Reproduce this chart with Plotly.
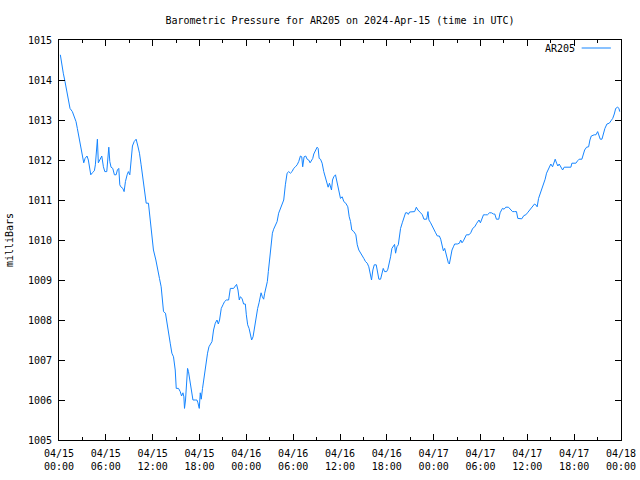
import pandas as pd
import plotly.graph_objects as go

series_name = "AR205"
start_time = "2024-04-15 00:00"
end_time = "2024-04-18 00:00"

hours = [
    0.17, 0.35, 0.55, 0.77, 0.99, 1.19, 1.41, 1.71, 1.96, 2.18, 2.35, 2.57, 2.78, 2.99, 3.17, 3.34,
    3.59, 3.76, 3.94, 4.07, 4.27, 4.53, 4.66, 4.79, 4.92, 5.04, 5.22, 5.48, 5.69, 5.87, 6.12, 6.25,
    6.38, 6.51, 6.67, 6.89, 7.10, 7.32, 7.48, 7.66, 7.79, 7.92, 8.18, 8.34, 8.51, 8.73, 8.89, 9.07,
    9.24, 9.41, 9.63, 9.88, 10.10, 10.31, 10.52, 10.69, 10.87, 11.04, 11.17, 11.46, 11.59, 11.68,
    11.90, 12.10, 12.41, 12.62, 12.87, 13.09, 13.26, 13.39, 13.64, 13.82, 14.03, 14.25, 14.46, 14.67,
    14.89, 15.02, 15.31, 15.53, 15.70, 15.88, 16.00, 16.08, 16.21, 16.34, 16.47, 16.59, 16.72, 16.90,
    17.03, 17.16, 17.45, 17.67, 17.80, 17.97, 18.10, 18.22, 18.39, 18.52, 18.70, 18.87, 19.03, 19.21,
    19.38, 19.60, 19.80, 20.02, 20.24, 20.41, 20.57, 20.79, 21.01, 21.21, 21.43, 21.73, 21.95, 22.37,
    22.59, 22.75, 22.93, 23.10, 23.23, 23.45, 23.65, 23.87, 24.00, 24.17, 24.35, 24.51, 24.68, 24.86,
    25.03, 25.15, 25.28, 25.45, 25.63, 25.80, 25.89, 26.05, 26.22, 26.35, 26.53, 26.69, 26.82, 26.99,
    27.17, 27.34, 27.50, 27.72, 27.94, 28.14, 28.36, 28.58, 28.79, 29.00, 29.22, 29.43, 29.65, 29.86,
    30.07, 30.29, 30.51, 30.71, 30.93, 31.10, 31.22, 31.40, 31.61, 31.79, 31.99, 32.17, 32.34, 32.51,
    32.64, 32.85, 33.07, 33.20, 33.33, 33.50, 33.71, 33.92, 34.14, 34.36, 34.48, 34.65, 34.78, 34.91,
    35.04, 35.20, 35.42, 35.64, 35.84, 36.06, 36.28, 36.49, 36.74, 37.00, 37.18, 37.35, 37.51, 37.77,
    38.03, 38.21, 38.41, 38.63, 38.85, 39.05, 39.27, 39.49, 39.69, 39.91, 40.04, 40.21, 40.39, 40.64,
    40.81, 40.98, 41.20, 41.36, 41.54, 41.71, 41.97, 42.13, 42.31, 42.48, 42.65, 42.83, 42.99, 43.12,
    43.29, 43.47, 43.60, 43.76, 43.98, 44.19, 44.40, 44.62, 44.75, 44.92, 45.26, 45.56, 45.78, 45.98,
    46.33, 46.55, 46.75, 47.10, 47.27, 47.39, 47.61, 47.83, 48.04, 48.25, 48.47, 48.73, 48.90, 49.06,
    49.24, 49.41, 49.58, 49.76, 49.88, 50.01, 50.18, 50.35, 50.53, 50.69, 51.04, 51.30, 51.46, 51.63,
    51.81, 51.98, 52.19, 52.53, 52.75, 53.00, 53.26, 53.52, 53.81, 53.99, 54.16, 54.38, 54.67, 54.89,
    55.15, 55.40, 55.66, 55.83, 56.04, 56.34, 56.51, 56.81, 57.02, 57.24, 57.58, 57.84, 58.10, 58.35,
    58.61, 58.78, 59.03, 59.29, 59.55, 59.81, 60.02, 60.23, 60.45, 60.67, 60.92, 61.09, 61.26, 61.44,
    61.64, 61.86, 62.08, 62.28, 62.46, 62.63, 62.80, 63.01, 63.23, 63.40, 63.57, 63.75, 63.91, 64.08,
    64.30, 64.52, 64.72, 65.16, 65.58, 65.71, 66.22, 66.44, 66.64, 66.99, 67.16, 67.34, 67.59, 67.85,
    68.02, 68.19, 68.57, 68.79, 69.01, 69.17, 69.34, 69.56, 69.73, 69.94, 70.20, 70.50, 70.72, 70.94,
    71.14, 71.32, 71.57, 71.74, 71.83,
]

pressure = [
    1014.63, 1014.38, 1014.17, 1013.96, 1013.75, 1013.50, 1013.29, 1013.21, 1013.07, 1012.96, 1012.79, 1012.58, 1012.38, 1012.13, 1011.93, 1012.04,
    1012.10, 1012.00, 1011.79, 1011.63, 1011.68, 1011.73, 1011.88, 1012.35, 1012.52, 1011.93, 1012.02, 1012.10, 1011.83, 1011.71, 1011.71, 1012.08,
    1012.32, 1011.96, 1011.82, 1011.79, 1011.63, 1011.63, 1011.75, 1011.79, 1011.38, 1011.33, 1011.29, 1011.21, 1011.46, 1011.63, 1011.71, 1011.63,
    1012.00, 1012.35, 1012.46, 1012.52, 1012.35, 1012.17, 1011.88, 1011.63, 1011.38, 1011.13, 1010.92, 1010.92, 1010.67, 1010.50,
    1010.08, 1009.75, 1009.50, 1009.25, 1009.04, 1008.83, 1008.50, 1008.21, 1008.17, 1007.92, 1007.67, 1007.42, 1007.17, 1007.08,
    1006.75, 1006.29, 1006.29, 1006.21, 1006.10, 1006.18, 1006.08, 1005.79, 1006.00, 1006.33, 1006.79, 1006.71, 1006.54, 1006.38,
    1006.17, 1006.00, 1006.00, 1006.00, 1005.93, 1005.79, 1006.18, 1006.02, 1006.29, 1006.50, 1006.71, 1006.92, 1007.17, 1007.33,
    1007.38, 1007.46, 1007.75, 1007.92, 1008.00, 1007.90, 1008.00, 1008.29, 1008.38, 1008.46, 1008.50, 1008.50, 1008.79, 1008.79,
    1008.85, 1008.89, 1008.75, 1008.50, 1008.58, 1008.54, 1008.40, 1008.40, 1008.13, 1007.88, 1007.79, 1007.67, 1007.50, 1007.58,
    1007.79, 1007.96, 1008.08, 1008.29, 1008.43, 1008.63, 1008.68, 1008.58, 1008.52, 1008.67, 1008.83, 1008.96, 1009.21, 1009.50,
    1009.83, 1010.17, 1010.27, 1010.38, 1010.46, 1010.67, 1010.79, 1010.90, 1011.00, 1011.38, 1011.67, 1011.71, 1011.67, 1011.71,
    1011.79, 1011.83, 1011.88, 1011.96, 1012.10, 1012.08, 1011.83, 1012.08, 1012.10, 1012.02, 1012.00, 1011.93, 1011.98, 1012.04,
    1012.15, 1012.23, 1012.32, 1012.29, 1012.04, 1012.02, 1011.92, 1011.71, 1011.54, 1011.38, 1011.32, 1011.42, 1011.33, 1011.25,
    1011.50, 1011.58, 1011.63, 1011.42, 1011.21, 1011.04, 1011.08, 1010.96, 1010.92, 1010.83, 1010.58, 1010.46, 1010.25, 1010.21,
    1010.13, 1009.88, 1009.75, 1009.68, 1009.63, 1009.54, 1009.46, 1009.42, 1009.33, 1009.08, 1009.00, 1009.25, 1009.38, 1009.38,
    1009.13, 1009.02, 1009.02, 1009.17, 1009.29, 1009.21, 1009.21, 1009.27, 1009.42, 1009.58, 1009.79, 1009.85, 1009.89, 1009.67,
    1009.83, 1009.88, 1010.04, 1010.29, 1010.43, 1010.57, 1010.68, 1010.68, 1010.64, 1010.70, 1010.71, 1010.71, 1010.82, 1010.75,
    1010.68, 1010.63, 1010.52, 1010.52, 1010.71, 1010.50, 1010.43, 1010.33, 1010.25, 1010.18, 1010.10, 1010.10, 1010.02, 1009.88,
    1009.73, 1009.79, 1009.63, 1009.50, 1009.43, 1009.40, 1009.60, 1009.75, 1009.83, 1009.90, 1009.90, 1009.92, 1010.00, 1009.93,
    1009.98, 1010.04, 1010.13, 1010.13, 1010.18, 1010.29, 1010.33, 1010.42, 1010.50, 1010.43, 1010.52, 1010.63, 1010.63, 1010.63,
    1010.68, 1010.68, 1010.65, 1010.65, 1010.52, 1010.52, 1010.68, 1010.79, 1010.77, 1010.82, 1010.82, 1010.77, 1010.71, 1010.71,
    1010.71, 1010.54, 1010.53, 1010.53, 1010.61, 1010.63, 1010.68, 1010.73, 1010.79, 1010.83, 1010.90, 1010.88, 1010.83, 1011.04,
    1011.15, 1011.25, 1011.38, 1011.52, 1011.67, 1011.75, 1011.83, 1011.90, 1011.83, 1011.93, 1012.02, 1011.92, 1011.85, 1011.90,
    1011.82, 1011.75, 1011.82, 1011.82, 1011.82, 1011.92, 1011.92, 1011.98, 1012.02, 1012.02, 1012.13, 1012.25, 1012.32, 1012.33,
    1012.50, 1012.60, 1012.63, 1012.63, 1012.71, 1012.63, 1012.52, 1012.52, 1012.67, 1012.79, 1012.90, 1012.92, 1012.98, 1013.04,
    1013.15, 1013.29, 1013.32, 1013.29, 1013.21,
]

y_min, y_max = 1005, 1015
title_text = "Barometric Pressure for AR205 on 2024-Apr-15 (time in UTC)"
y_title = "milliBars"

times = pd.Timestamp(start_time) + pd.to_timedelta(hours, unit="h")

FONT = "DejaVu Sans Mono, Liberation Mono, monospace"
LINE_COLOR = "#1585ff"

fig = go.Figure()
fig.add_trace(go.Scatter(
    x=times, y=pressure, mode="lines", name=series_name,
    line=dict(color=LINE_COLOR, width=1), showlegend=False,
))

fig.update_layout(
    width=640, height=480,
    margin=dict(l=59, r=19, t=40, b=40, autoexpand=False),
    paper_bgcolor="white", plot_bgcolor="white",
    font=dict(family=FONT, size=10, color="black"),
    title=dict(text=title_text, x=340 / 640, xanchor="center",
               y=1 - 20 / 480, yanchor="middle", font=dict(family=FONT, size=10, color="black")),
)

fig.update_xaxes(
    range=[pd.Timestamp(start_time), pd.Timestamp(end_time)],
    dtick=6 * 3600 * 1000, tick0=pd.Timestamp(start_time),
    tickformat="%m/%d<br>%H:%M",
    ticks="inside", ticklen=6, tickcolor="black", tickwidth=1,
    minor=dict(dtick=3 * 3600 * 1000, ticks="inside", ticklen=3, tickcolor="black", showgrid=False),
    showline=True, linecolor="black", linewidth=1, mirror="ticks",
    showgrid=False, zeroline=False, automargin=False, ticklabelstandoff=4,
    tickfont=dict(family=FONT, size=10, color="black"),
)
fig.update_yaxes(
    range=[y_min, y_max], dtick=1, tick0=y_min,
    ticks="inside", ticklen=6, tickcolor="black", tickwidth=1,
    showline=True, linecolor="black", linewidth=1, mirror="ticks",
    showgrid=False, zeroline=False, automargin=False, ticklabelstandoff=4,
    tickfont=dict(family=FONT, size=10, color="black"),
    title=dict(text=y_title, font=dict(family=FONT, size=10, color="black"), standoff=12),
)

# gnuplot-style key: label followed by a line sample
fig.add_annotation(text=series_name, xref="paper", yref="paper", x=0.921, y=0.98,
                   xanchor="right", yanchor="middle", showarrow=False,
                   font=dict(family=FONT, size=10, color="black"))
fig.add_shape(type="line", xref="paper", yref="paper", x0=0.93, x1=0.982, y0=0.98, y1=0.98,
              line=dict(color=LINE_COLOR, width=1))

fig.write_html("out.html")
